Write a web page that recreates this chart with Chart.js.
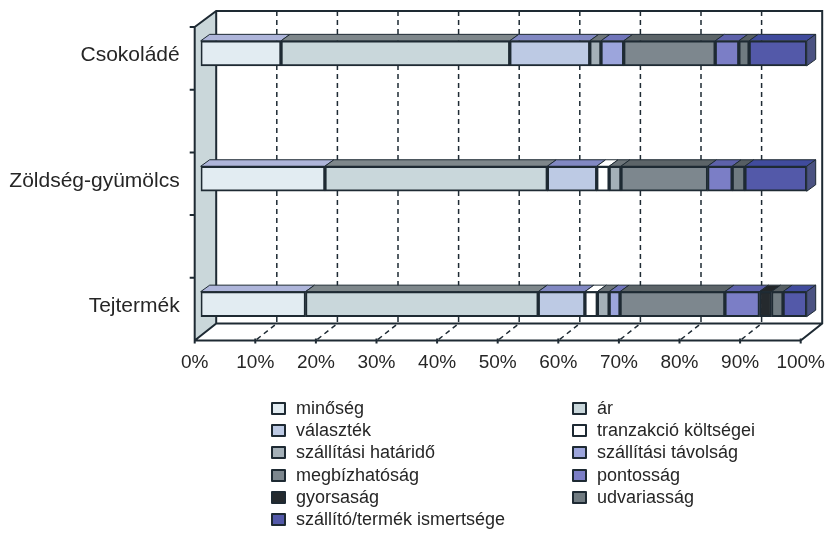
<!DOCTYPE html>
<html lang="hu">
<head>
<meta charset="utf-8">
<title>Beszállítói szempontok</title>
<script src="https://cdn.jsdelivr.net/npm/chart.js@4/dist/chart.umd.min.js"></script>
<style>
  body { margin: 0; background: #fff; }
  .chart-wrap { position: relative; width: 826px; height: 549px; }
  #legend {
    position: absolute; left: 271px; top: 397px; width: 520px;
    display: grid; grid-template-columns: 301px auto; grid-auto-rows: 22.3px;
    font: 18px "Liberation Sans", Arial, sans-serif; color: #262626;
  }
  #legend div { display: flex; align-items: center; white-space: nowrap; }
  #legend i { width: 11px; height: 9px; border: 2px solid #1e2a33; border-radius: 1px; margin-right: 10px; }
</style>
</head>
<body>
<div class="chart-wrap">
  <canvas id="chart" width="826" height="549"></canvas>
  <div id="legend"></div>
</div>
<script>
const categories = ['Csokoládé', '', 'Zöldség-gyümölcs', '', 'Tejtermék'];
const seriesNames = ['minőség', 'ár', 'választék', 'tranzakció költségei', 'szállítási határidő',
  'szállítási távolság', 'megbízhatóság', 'pontosság', 'gyorsaság', 'udvariasság', 'szállító/termék ismertsége'];

const csokolade = [13.25, 37.75, 13.2, null, 1.85, 3.75, 15.1, 3.9, null, 1.7, 9.5];
const zoldseg = [20.5, 36.7, 8.15, 2.05, 1.95, null, 14.3, 4.05, null, 2.1, 10.2];
const tejtermek = [17.3, 38.4, 7.7, 2.05, 1.95, 1.8, 17.3, 5.7, 2.0, 1.9, 3.9];

const xTicks = [0, 10, 20, 30, 40, 50, 60, 70, 80, 90, 100];

const faceColors = ['#e2ecf2', '#c9d7db', '#bdcae4', '#ffffff', '#a4b0b8', '#9ca5dc',
  '#7d878e', '#7b7ec6', '#252a2e', '#707b81', '#5359a9'];
const topColors = ['#aeb5da', '#7e878b', '#8188c2', '#ffffff', '#6d757a', '#7075ba',
  '#5c6468', '#5d61aa', '#23272a', '#565e63', '#404b9d'];

const lineColor = '#1e2a33';
const depth = { x: 9, y: 6.5 };      // bar top/side faces
const wall = { x: 21.5, y: 16 };     // floor and side wall
const plane = { x: 6, y: 5 };        // bars stand this far behind the front edge

// walls, dashed grid and axis lines, all taken from the chart's scales
const framePlugin = {
  id: 'frame',
  beforeDatasetsDraw(chart) {
    const { ctx, scales: { x, y } } = chart;
    const px = v => x.getPixelForValue(v) - plane.x;
    const top = y.top + plane.y;
    const bottom = y.bottom + plane.y;
    const backX = px(0) + wall.x;
    const backTop = top - wall.y;
    const backBottom = bottom - wall.y - 1;

    ctx.save();
    ctx.strokeStyle = lineColor;

    ctx.fillStyle = '#cad7da';
    ctx.beginPath();
    ctx.moveTo(px(0), top);
    ctx.lineTo(backX, backTop);
    ctx.lineTo(backX, backBottom);
    ctx.lineTo(px(0), bottom);
    ctx.closePath();
    ctx.fill();

    ctx.lineWidth = 1.5;
    ctx.setLineDash([5, 4]);
    xTicks.slice(1, -1).forEach(v => {
      ctx.beginPath();
      ctx.moveTo(px(v) + wall.x, backTop);
      ctx.lineTo(px(v) + wall.x, backBottom);
      ctx.lineTo(px(v), bottom);
      ctx.stroke();
    });
    ctx.setLineDash([]);

    ctx.lineWidth = 2;
    ctx.beginPath();
    ctx.moveTo(px(0), top);
    ctx.lineTo(backX, backTop);
    ctx.lineTo(px(100) + wall.x, backTop);
    ctx.lineTo(px(100) + wall.x, backBottom);
    ctx.lineTo(px(100), bottom);
    ctx.lineTo(px(0), bottom);
    ctx.closePath();
    ctx.moveTo(backX, backTop);
    ctx.lineTo(backX, backBottom);
    ctx.lineTo(px(0), bottom);
    ctx.moveTo(backX, backBottom);
    ctx.lineTo(px(100) + wall.x, backBottom);
    xTicks.forEach(v => {
      ctx.moveTo(px(v), bottom - 2);
      ctx.lineTo(px(v), bottom + 3);
    });
    const step = (bottom - top) / categories.length;
    for (let i = 0; i < categories.length; i++) {
      ctx.moveTo(px(0) - 5, top + i * step);
      ctx.lineTo(px(0), top + i * step);
    }
    ctx.stroke();

    // top and end faces of the bars
    ctx.lineWidth = 1;
    chart.data.datasets.forEach((ds, i) => {
      chart.getDatasetMeta(i).data.forEach((bar, j) => {
        if (ds.data[j] == null) return;
        const upper = bar.y - bar.height / 2;
        ctx.fillStyle = topColors[i];
        ctx.beginPath();
        ctx.moveTo(bar.base, upper);
        ctx.lineTo(bar.x, upper);
        ctx.lineTo(bar.x + depth.x, upper - depth.y);
        ctx.lineTo(bar.base + depth.x, upper - depth.y);
        ctx.closePath();
        ctx.fill();
        ctx.stroke();
        if (x.getValueForPixel(bar.x) > 99.9) {
          ctx.fillStyle = '#4b5282';
          ctx.beginPath();
          ctx.moveTo(bar.x, upper);
          ctx.lineTo(bar.x + depth.x, upper - depth.y);
          ctx.lineTo(bar.x + depth.x, upper - depth.y + bar.height);
          ctx.lineTo(bar.x, upper + bar.height);
          ctx.closePath();
          ctx.fill();
          ctx.stroke();
        }
      });
    });
    ctx.restore();
  }
};

const datasets = seriesNames.map((name, i) => ({
  label: name,
  data: [csokolade[i], null, zoldseg[i], null, tejtermek[i]],
  backgroundColor: faceColors[i],
  borderColor: lineColor,
  borderWidth: 2,
  borderSkipped: false,
  barThickness: 25
}));

new Chart(document.getElementById('chart'), {
  type: 'bar',
  data: { labels: categories, datasets },
  plugins: [framePlugin],
  options: {
    indexAxis: 'y',
    responsive: false,
    animation: false,
    layout: { autoPadding: false, padding: { top: 22, right: 19.3, left: 0, bottom: 0 } },
    plugins: { legend: { display: false }, tooltip: { enabled: false } },
    scales: {
      x: {
        stacked: true,
        min: 0,
        max: 100,
        grid: { display: false },
        border: { display: false },
        afterFit: scale => {
          scale.height = 213.5;
          scale.paddingLeft = 0;
          scale.paddingRight = 0;
        },
        afterBuildTicks: scale => { scale.ticks = xTicks.map(value => ({ value })); },
        ticks: {
          callback: v => v + '%',
          labelOffset: -6,
          padding: 8,
          maxRotation: 0,
          autoSkip: false,
          color: '#262626',
          font: { family: '"Liberation Sans", Arial, sans-serif', size: 19 }
        }
      },
      y: {
        stacked: true,
        grid: { display: false },
        border: { display: false },
        afterFit: scale => {
          scale.width = 200.7;
          scale.paddingTop = 0;
          scale.paddingBottom = 0;
        },
        ticks: {
          padding: 13,
          labelOffset: 2,
          autoSkip: false,
          color: '#262626',
          font: { family: '"Liberation Sans", Arial, sans-serif', size: 21 }
        }
      }
    }
  }
});

document.getElementById('legend').innerHTML = seriesNames.map((name, i) =>
  `<div><i style="background:${faceColors[i]}"></i>${name}</div>`
).join('');
</script>
</body>
</html>
